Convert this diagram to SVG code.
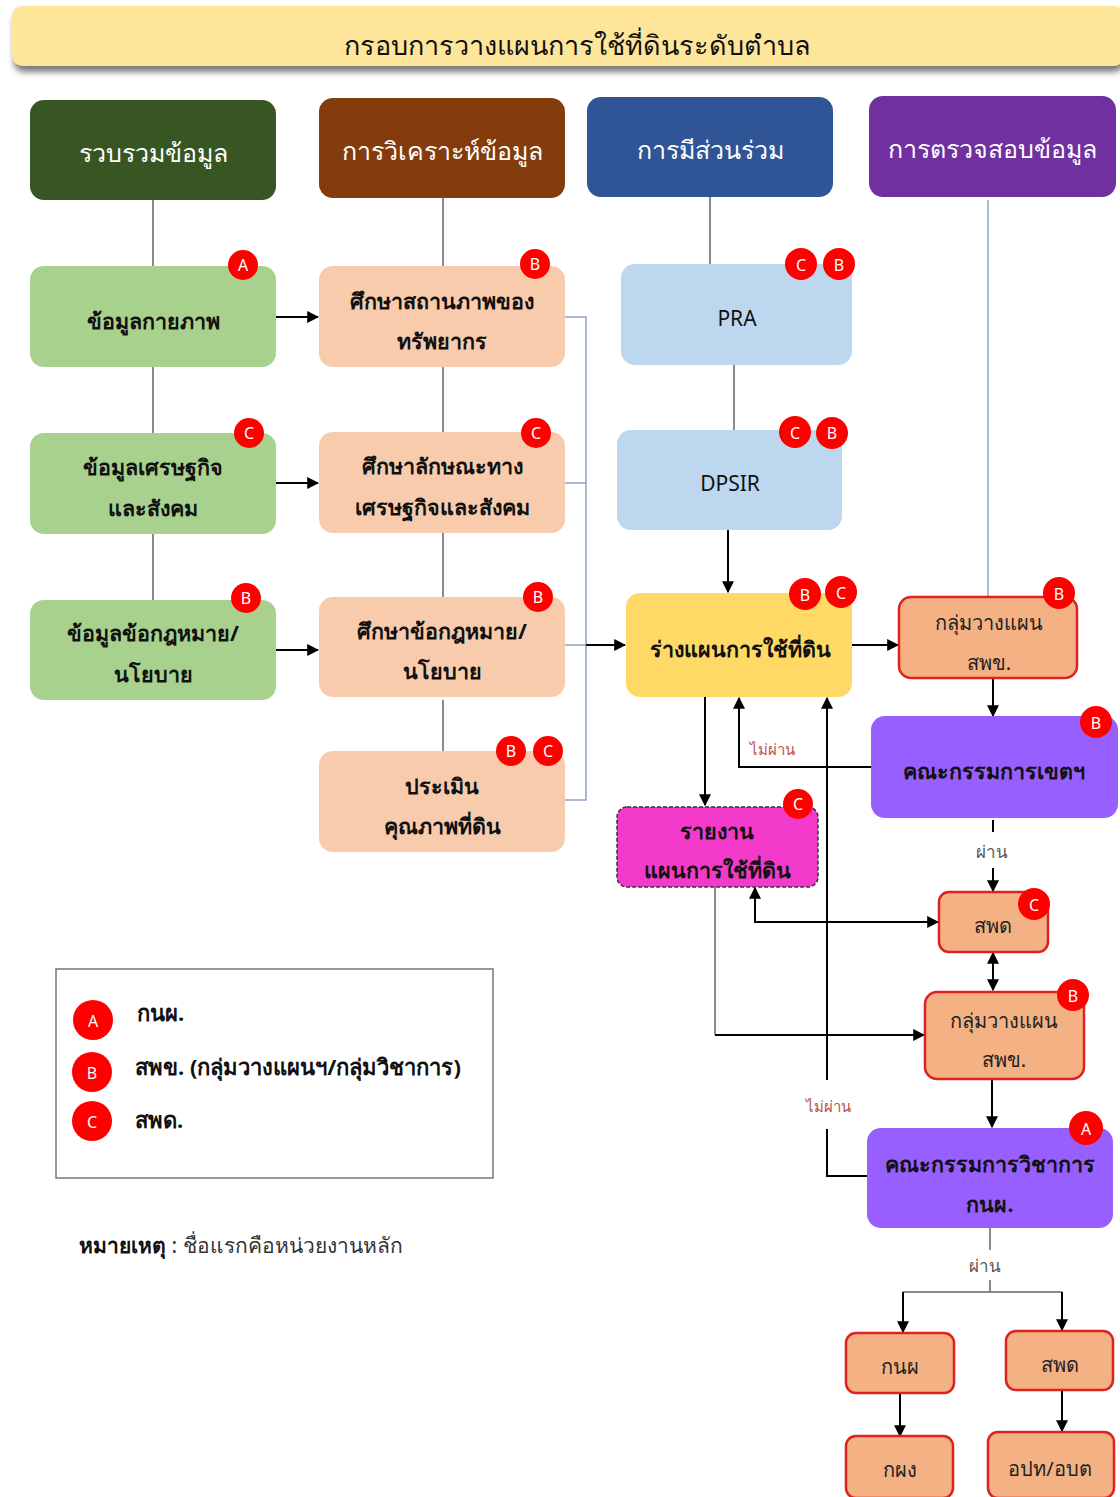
<svg xmlns="http://www.w3.org/2000/svg" width="1120" height="1497" viewBox="0 0 1120 1497">
<style>
text{font-family:"Noto Sans","DejaVu Sans",sans-serif;text-anchor:middle;dominant-baseline:central}
.hd{fill:#fff;font-size:25px}
.nt{fill:#111;font-size:21.5px;font-weight:bold}
.nr{fill:#222;font-size:20px}
.bd text{fill:#fff;font-size:16px}
.bd circle{fill:#f00}
.g{fill:#A9D18E}
.p{fill:#F8CBAD}
.bl{fill:#BDD7EE}
.o{fill:#F4B183;stroke:#D22;stroke-width:2.5}
.v{fill:#985FFF}
.ln{stroke:#666;stroke-width:1.5;fill:none}
.lb{stroke:#8EA3C4;stroke-width:1.5;fill:none}
.ar{stroke:#000;stroke-width:2;fill:none}
.lbl{fill:#C0504D;font-size:15px}
.lbp{fill:#555;font-size:17px}
.lg{text-anchor:start;font-size:22px;font-weight:bold;fill:#111}
</style>
<defs>
<marker id="ah" viewBox="0 0 10 10" refX="9" refY="5" markerWidth="6" markerHeight="6" orient="auto-start-reverse"><path d="M0,0L10,5L0,10z" fill="#000"/></marker>
<filter id="sh" x="-5%" y="-30%" width="110%" height="180%"><feGaussianBlur stdDeviation="3"/></filter>
</defs>

<g id="title">
<rect x="14" y="12" width="1110" height="60" rx="10" fill="#777" filter="url(#sh)"/>
<rect x="12" y="6" width="1112" height="60" rx="10" fill="#FDE59A"/>
<text x="577" y="44" style="font-size:27px;fill:#111">กรอบการวางแผนการใช้ที่ดินระดับตำบล</text>
</g>

<g id="connectors">
<path class="ln" d="M153,200V266M153,367V433M153,534V600"/>
<path class="ln" d="M443,198V266M443,367V432M443,533V597M443,700V751"/>
<path class="ln" d="M710,197V264M734,365V430"/>
<path class="lb" d="M988,200V598"/>
<path class="lb" d="M565,317H586V800H565M565,483H586M565,645H586"/>
<path class="ar" marker-end="url(#ah)" d="M276,317H318"/>
<path class="ar" marker-end="url(#ah)" d="M276,483H318"/>
<path class="ar" marker-end="url(#ah)" d="M276,650H318"/>
<path class="ar" marker-end="url(#ah)" d="M586,645H625"/>
<path class="ar" marker-end="url(#ah)" d="M728,530V592"/>
<path class="ar" marker-end="url(#ah)" d="M852,645H898"/>
<path class="ar" marker-end="url(#ah)" d="M705,697V805"/>
<path class="ar" marker-end="url(#ah)" d="M993,678V716"/>
<path class="ar" marker-end="url(#ah)" d="M871,767H739V698"/>
<path class="ar" d="M993,820V832"/>
<path class="ar" marker-end="url(#ah)" d="M993,868V891"/>
<path class="ar" marker-start="url(#ah)" marker-end="url(#ah)" d="M755,888V922H938"/>
<path class="ar" marker-start="url(#ah)" marker-end="url(#ah)" d="M993,953V990"/>
<path class="ln" d="M715,887V1035"/>
<path class="ar" marker-end="url(#ah)" d="M715,1035H924"/>
<path class="ar" marker-end="url(#ah)" d="M992,1079V1127"/>
<path class="ar" marker-end="url(#ah)" d="M867,1176H827V1129M827,1080V698"/>
<path class="ln" d="M990,1228V1250M990,1280V1292"/>
<path class="ln" d="M903,1292H1062"/>
<path class="ar" marker-end="url(#ah)" d="M903,1292V1332"/>
<path class="ar" marker-end="url(#ah)" d="M1062,1292V1330"/>
<path class="ar" marker-end="url(#ah)" d="M900,1393V1436"/>
<path class="ar" marker-end="url(#ah)" d="M1062,1390V1431"/>
<text class="lbl" x="772" y="749">ไม่ผ่าน</text>
<text class="lbl" x="828" y="1106">ไม่ผ่าน</text>
<text class="lbp" x="992" y="851">ผ่าน</text>
<text class="lbp" x="985" y="1265">ผ่าน</text>
</g>

<g id="h1"><rect x="30" y="100" width="246" height="100" rx="14" fill="#375623"/><text class="hd" x="153" y="152">รวบรวมข้อมูล</text></g>
<g id="h2"><rect x="319" y="98" width="246" height="100" rx="14" fill="#843C0C"/><text class="hd" x="442" y="150">การวิเคราะห์ข้อมูล</text></g>
<g id="h3"><rect x="587" y="97" width="246" height="100" rx="14" fill="#2F5597"/><text class="hd" x="710" y="149">การมีส่วนร่วม</text></g>
<g id="h4"><rect x="869" y="96" width="247" height="101" rx="14" fill="#7030A0"/><text class="hd" x="992" y="148">การตรวจสอบข้อมูล</text></g>

<g id="n1"><rect class="g" x="30" y="266" width="246" height="101" rx="14"/><text class="nt" x="153" y="320">ข้อมูลกายภาพ</text>
<g class="bd"><circle cx="243" cy="265" r="15"/><text x="243" y="265">A</text></g></g>
<g id="n2"><rect class="g" x="30" y="433" width="246" height="101" rx="14"/><text class="nt" x="153" y="466">ข้อมูลเศรษฐกิจ</text><text class="nt" x="153" y="507">และสังคม</text>
<g class="bd"><circle cx="249" cy="433" r="15"/><text x="249" y="433">C</text></g></g>
<g id="n3"><rect class="g" x="30" y="600" width="246" height="100" rx="14"/><text class="nt" x="153" y="632">ข้อมูลข้อกฎหมาย/</text><text class="nt" x="153" y="673">นโยบาย</text>
<g class="bd"><circle cx="246" cy="598" r="15"/><text x="246" y="598">B</text></g></g>

<g id="n4"><rect class="p" x="319" y="266" width="246" height="101" rx="14"/><text class="nt" x="442" y="300">ศึกษาสถานภาพของ</text><text class="nt" x="442" y="340">ทรัพยากร</text>
<g class="bd"><circle cx="535" cy="264" r="15"/><text x="535" y="264">B</text></g></g>
<g id="n5"><rect class="p" x="319" y="432" width="246" height="101" rx="14"/><text class="nt" x="442" y="465">ศึกษาลักษณะทาง</text><text class="nt" x="442" y="506">เศรษฐกิจและสังคม</text>
<g class="bd"><circle cx="536" cy="433" r="15"/><text x="536" y="433">C</text></g></g>
<g id="n6"><rect class="p" x="319" y="597" width="246" height="100" rx="14"/><text class="nt" x="442" y="630">ศึกษาข้อกฎหมาย/</text><text class="nt" x="442" y="670">นโยบาย</text>
<g class="bd"><circle cx="538" cy="597" r="15"/><text x="538" y="597">B</text></g></g>
<g id="n7"><rect class="p" x="319" y="751" width="246" height="101" rx="14"/><text class="nt" x="442" y="785">ประเมิน</text><text class="nt" x="442" y="825">คุณภาพที่ดิน</text>
<g class="bd"><circle cx="511" cy="751" r="15"/><text x="511" y="751">B</text><circle cx="548" cy="751" r="15"/><text x="548" y="751">C</text></g></g>

<g id="n8"><rect class="bl" x="621" y="264" width="231" height="101" rx="14"/><text x="737" y="318" style="font-size:21px;fill:#111">PRA</text>
<g class="bd"><circle cx="801" cy="264" r="16"/><text x="801" y="265">C</text><circle cx="839" cy="264" r="16"/><text x="839" y="265">B</text></g></g>
<g id="n9"><rect class="bl" x="617" y="430" width="225" height="100" rx="14"/><text x="730" y="483" style="font-size:21px;fill:#111">DPSIR</text>
<g class="bd"><circle cx="795" cy="432" r="16"/><text x="795" y="433">C</text><circle cx="832" cy="433" r="16"/><text x="832" y="433">B</text></g></g>
<g id="n10"><rect x="626" y="593" width="226" height="104" rx="14" fill="#FFD966"/><text class="nt" x="740" y="648">ร่างแผนการใช้ที่ดิน</text>
<g class="bd"><circle cx="805" cy="594" r="16"/><text x="805" y="595">B</text><circle cx="841" cy="592" r="16"/><text x="841" y="593">C</text></g></g>
<g id="n11"><rect x="617" y="807" width="201" height="80" rx="10" fill="#F33ACB" stroke="#333" stroke-width="1.5" stroke-dasharray="4,2"/><text class="nt" x="717" y="830">รายงาน</text><text class="nt" x="717" y="869">แผนการใช้ที่ดิน</text>
<g class="bd"><circle cx="798" cy="804" r="15"/><text x="798" y="804">C</text></g></g>

<g id="n12"><rect class="o" x="899" y="597" width="178" height="81" rx="12"/><text class="nr" x="989" y="622">กลุ่มวางแผน</text><text class="nr" x="989" y="662">สพข.</text>
<g class="bd"><circle cx="1059" cy="593" r="16"/><text x="1059" y="594">B</text></g></g>
<g id="n13"><rect class="v" x="871" y="716" width="247" height="102" rx="14"/><text class="nt" x="994" y="770">คณะกรรมการเขตฯ</text>
<g class="bd"><circle cx="1096" cy="722" r="16"/><text x="1096" y="723">B</text></g></g>
<g id="n14"><rect class="o" x="939" y="892" width="109" height="60" rx="10"/><text class="nr" x="993" y="925">สพด</text>
<g class="bd"><circle cx="1034" cy="904" r="16"/><text x="1034" y="905">C</text></g></g>
<g id="n15"><rect class="o" x="925" y="992" width="159" height="87" rx="12"/><text class="nr" x="1004" y="1020">กลุ่มวางแผน</text><text class="nr" x="1004" y="1059">สพข.</text>
<g class="bd"><circle cx="1073" cy="995" r="16"/><text x="1073" y="996">B</text></g></g>
<g id="n16"><rect class="v" x="867" y="1128" width="246" height="100" rx="14"/><text class="nt" x="990" y="1163">คณะกรรมการวิชาการ</text><text class="nt" x="990" y="1203">กนผ.</text>
<g class="bd"><circle cx="1086" cy="1128" r="17"/><text x="1086" y="1129">A</text></g></g>
<g id="n17"><rect class="o" x="846" y="1333" width="108" height="60" rx="10"/><text class="nr" x="900" y="1366">กนผ</text></g>
<g id="n18"><rect class="o" x="1006" y="1331" width="107" height="59" rx="10"/><text class="nr" x="1060" y="1364">สพด</text></g>
<g id="n19"><rect class="o" x="846" y="1436" width="107" height="62" rx="10"/><text class="nr" x="900" y="1469">กผง</text></g>
<g id="n20"><rect class="o" x="988" y="1432" width="126" height="66" rx="10"/><text class="nr" x="1050" y="1468">อปท/อบต</text></g>

<g id="legend">
<rect x="56" y="969" width="437" height="209" fill="#fff" stroke="#777" stroke-width="1.5"/>
<g class="bd"><circle cx="93" cy="1020" r="20"/><text x="93" y="1021">A</text><circle cx="92" cy="1072" r="20"/><text x="92" y="1073">B</text><circle cx="92" cy="1121" r="20"/><text x="92" y="1122">C</text></g>
<text class="lg" x="137" y="1012">กนผ.</text>
<text class="lg" x="135" y="1066">สพข. (กลุ่มวางแผนฯ/กลุ่มวิชาการ)</text>
<text class="lg" x="135" y="1119">สพด.</text>
</g>
<text x="79" y="1245" style="text-anchor:start;font-size:21px;fill:#333"><tspan font-weight="bold" fill="#111">หมายเหตุ</tspan> : ชื่อแรกคือหน่วยงานหลัก</text>
</svg>
